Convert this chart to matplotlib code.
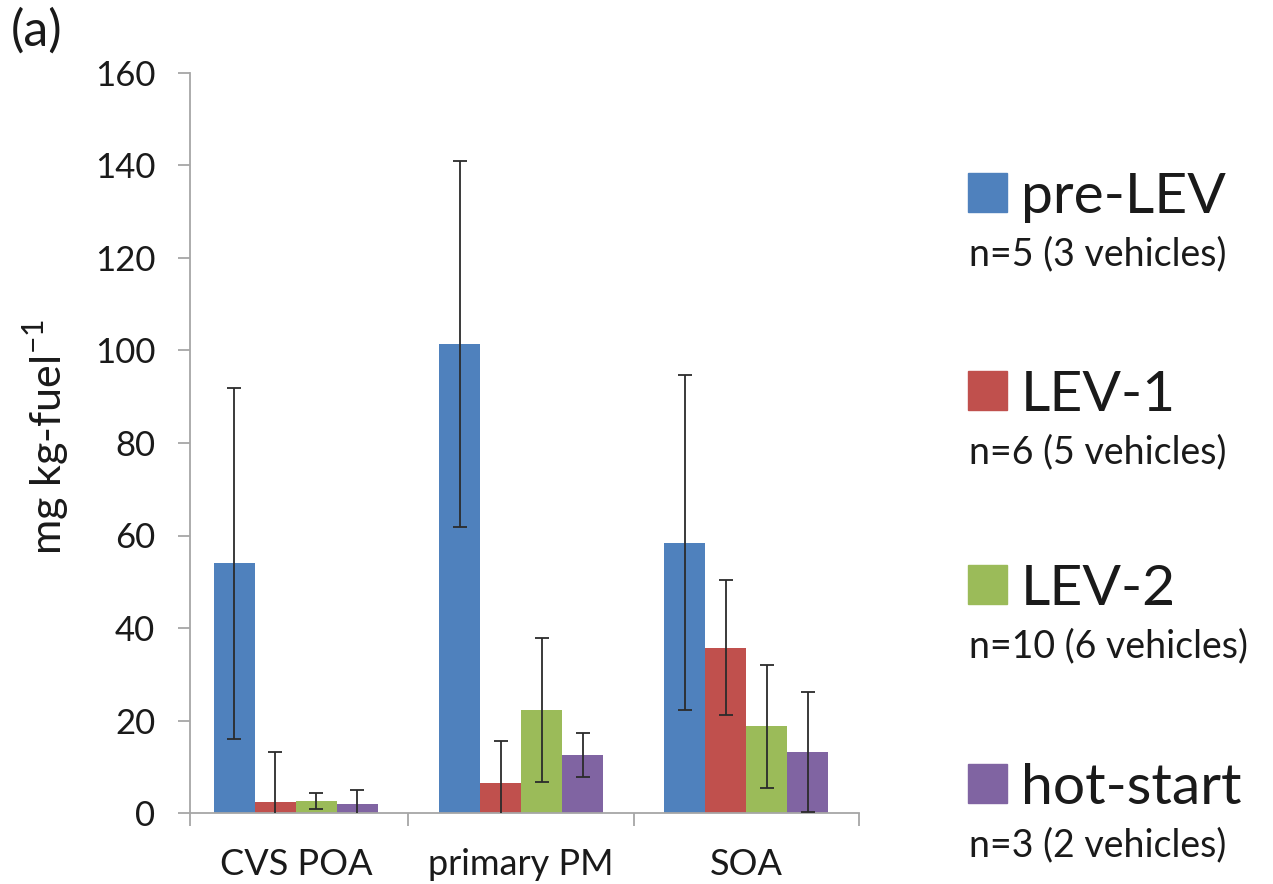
import matplotlib
matplotlib.use("Agg")
import matplotlib.pyplot as plt
import numpy as np
from matplotlib.patches import Rectangle

plt.rcParams['font.family'] = ['Lato', 'DejaVu Sans']

categories = ["CVS POA", "primary PM", "SOA"]
series = ["pre-LEV", "LEV-1", "LEV-2", "hot-start"]
series_notes = ["n=5 (3 vehicles)", "n=6 (5 vehicles)",
                "n=10 (6 vehicles)", "n=3 (2 vehicles)"]
colors = ["#4F81BD", "#C0504D", "#9BBB59", "#8064A2"]

pre_lev = [54.0, 101.4, 58.4]
lev1 = [2.4, 6.5, 35.7]
lev2 = [2.6, 22.3, 18.8]
hot_start = [2.0, 12.5, 13.2]

pre_lev_err = [37.9, 39.6, 36.2]
lev1_err = [10.8, 9.1, 14.6]
lev2_err = [1.8, 15.5, 13.3]
hot_start_err = [3.0, 4.8, 12.9]

values = [pre_lev, lev1, lev2, hot_start]
errors = [pre_lev_err, lev1_err, lev2_err, hot_start_err]

W, H = 1273, 884
fig = plt.figure(figsize=(W / 100, H / 100), dpi=100)
ax = fig.add_axes([190 / W, 1 - 813 / H, (859 - 190) / W, (813 - 73) / H])

x = np.arange(len(categories))
width = 0.182
for i, (vals, errs, col) in enumerate(zip(values, errors, colors)):
    offs = (i - 1.5) * width
    ax.bar(x + offs, vals, width, color=col, zorder=2)
    ax.errorbar(x + offs, vals, yerr=errs, fmt="none", ecolor="#2b2b2b",
                elinewidth=1.3, capsize=4.8, capthick=1.3, zorder=3)

ax.set_xlim(-0.47, 2.5)
ax.set_ylim(0, 160)
ax.set_yticks(np.arange(0, 161, 20))

axis_gray = "#a6a6a6"
text_col = "#1a1a1a"
for s in ["top", "right"]:
    ax.spines[s].set_visible(False)
for s in ["left", "bottom"]:
    ax.spines[s].set_color(axis_gray)
    ax.spines[s].set_linewidth(1.3)

ax.tick_params(axis="y", direction="out", length=9, width=1.3, color=axis_gray,
               labelsize=25, pad=16, labelcolor=text_col)
ax.set_xticks(x)
ax.set_xticklabels(categories)
ax.tick_params(axis="x", which="major", length=0, labelsize=26, pad=25,
               labelcolor=text_col)
ax.set_xticks([-0.47, 0.5, 1.5, 2.5], minor=True)
ax.tick_params(axis="x", which="minor", direction="out", length=9, width=1.3,
               color=axis_gray)

fig.text(46 / W, 1 - 437 / H, r"mg kg-fuel$^{\mathregular{-1}}$", rotation=90,
         ha="center", va="center", fontsize=31, color=text_col)
fig.text(11 / W, 1 - 31 / H, "(a)", ha="left", va="center", fontsize=36,
         color=text_col)

# legend block on the right
sq = 39
rows_y = [192, 390, 584, 783]
for name, note, col, cy in zip(series, series_notes, colors, rows_y):
    fig.patches.append(Rectangle((968 / W, 1 - (cy + sq / 2) / H), sq / W, sq / H,
                                 transform=fig.transFigure, color=col))
    fig.text(1021 / W, 1 - (cy + 21) / H, name, ha="left", va="baseline",
             fontsize=41, color=text_col)
    fig.text(969 / W, 1 - (cy + 73) / H, note, ha="left", va="baseline",
             fontsize=27, color=text_col)

fig.savefig("out.png", dpi=100, facecolor="white")
